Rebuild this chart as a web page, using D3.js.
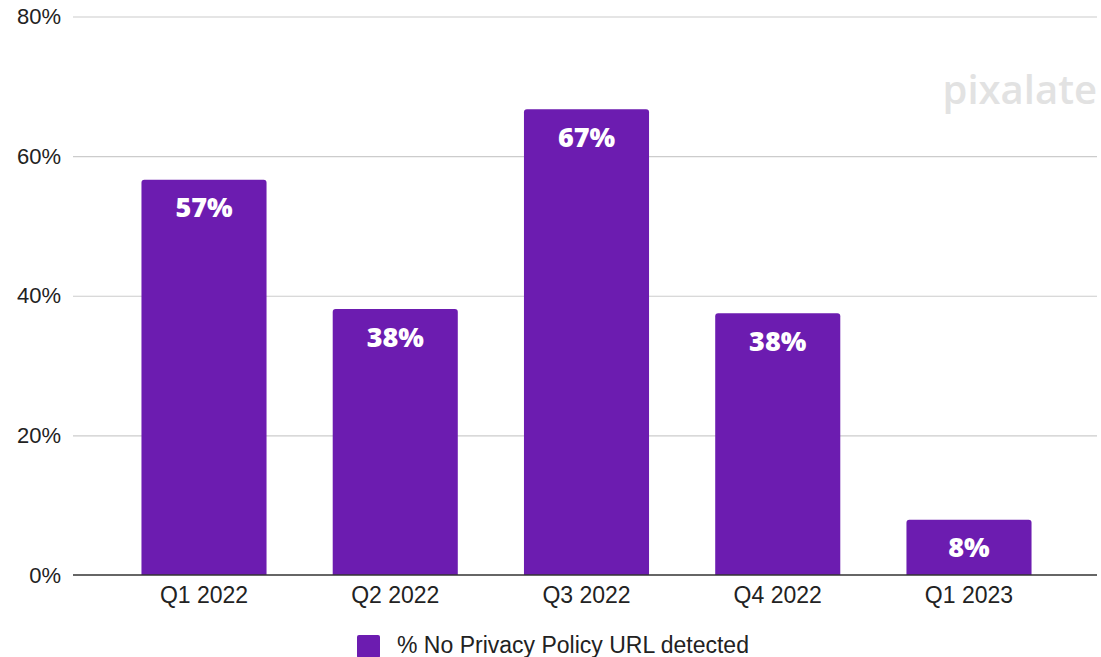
<!DOCTYPE html>
<html>
<head>
<meta charset="utf-8">
<script src="https://cdn.jsdelivr.net/npm/d3@7"></script>
<style>
  html, body { margin: 0; padding: 0; background: #fff; }
  svg { display: block; }
</style>
</head>
<body>
<svg id="chart" width="1101" height="657"></svg>
<script>
// Quarterly share of apps with no privacy policy URL detected (percent)
const quarters = ["Q1 2022", "Q2 2022", "Q3 2022", "Q4 2022", "Q1 2023"];
const noPolicyPct = [56.6, 38.1, 66.7, 37.5, 7.9];
const yTicks = [0, 20, 40, 60, 80];
const seriesName = "% No Privacy Policy URL detected";

const W = 1101, H = 657;
const margin = { top: 16.5, right: 4, bottom: 82, left: 73 };
const barColor = "#6c1cb0";

const svg = d3.select("#chart");

const x = d3.scaleBand()
  .domain(quarters)
  .range([margin.left, W - 1])
  .paddingInner(0.346)
  .paddingOuter(0.358);

const y = d3.scaleLinear()
  .domain([0, 80])
  .range([H - margin.bottom, margin.top]);

// Watermark
svg.append("text")
  .attr("x", 1097)
  .attr("y", 104)
  .attr("text-anchor", "end")
  .attr("font-family", "'Open Sans', sans-serif")
  .attr("font-weight", 600)
  .attr("font-size", 40)
  .attr("fill", "#e2e2e2")
  .text("pixalate");

// Horizontal gridlines + y tick labels
const yAxis = d3.axisLeft(y)
  .tickValues(yTicks)
  .tickSize(-(W - margin.right - margin.left))
  .tickPadding(12)
  .tickFormat(d => d + "%");

const gy = svg.append("g")
  .attr("transform", `translate(${margin.left},0)`)
  .call(yAxis);
gy.select(".domain").remove();
gy.selectAll(".tick line")
  .attr("stroke", d => d === 0 ? "none" : "#cccccc")
  .attr("stroke-width", 1.2);
gy.selectAll(".tick text")
  .attr("font-family", "'Liberation Sans', Arial, sans-serif")
  .attr("font-size", 22)
  .attr("fill", "#222");

// Bars with slightly rounded top corners
function topRoundedRect(x0, y0, w, h, r) {
  r = Math.min(r, h, w / 2);
  return `M${x0},${y0 + h}V${y0 + r}Q${x0},${y0} ${x0 + r},${y0}` +
         `H${x0 + w - r}Q${x0 + w},${y0} ${x0 + w},${y0 + r}V${y0 + h}Z`;
}

const data = quarters.map((q, i) => ({ q, v: noPolicyPct[i] }));

svg.append("g").selectAll("path")
  .data(data)
  .join("path")
  .attr("d", d => topRoundedRect(x(d.q), y(d.v), x.bandwidth(), y(0) - y(d.v), 3))
  .attr("fill", barColor);

// Value labels inside bars
svg.append("g").selectAll("text")
  .data(data)
  .join("text")
  .attr("x", d => x(d.q) + x.bandwidth() / 2)
  .attr("y", d => y(d.v) + 37.5)
  .attr("text-anchor", "middle")
  .attr("font-family", "'Open Sans', sans-serif")
  .attr("font-weight", 800)
  .attr("font-size", 27)
  .attr("fill", "#fff")
  .text(d => Math.round(d.v) + "%");

// Baseline and category labels
const xAxis = d3.axisBottom(x).tickSize(0).tickPadding(12);
const gx = svg.append("g")
  .attr("transform", `translate(0,${y(0)})`)
  .call(xAxis);
gx.select(".domain").remove();
svg.append("line")
  .attr("x1", margin.left).attr("x2", W - margin.right)
  .attr("y1", y(0)).attr("y2", y(0))
  .attr("stroke", "#333").attr("stroke-width", 1.5);
gx.selectAll(".tick text")
  .attr("font-family", "'Liberation Sans', Arial, sans-serif")
  .attr("font-size", 23)
  .attr("fill", "#222")
  .attr("dy", "0.71em");

// Legend
const legend = svg.append("g");
legend.append("rect")
  .attr("x", 357).attr("y", 635)
  .attr("width", 23).attr("height", 23)
  .attr("rx", 2)
  .attr("fill", barColor);
legend.append("text")
  .attr("x", 397).attr("y", 653)
  .attr("font-family", "'Liberation Sans', Arial, sans-serif")
  .attr("font-size", 23)
  .attr("fill", "#222")
  .text(seriesName);
</script>
</body>
</html>
